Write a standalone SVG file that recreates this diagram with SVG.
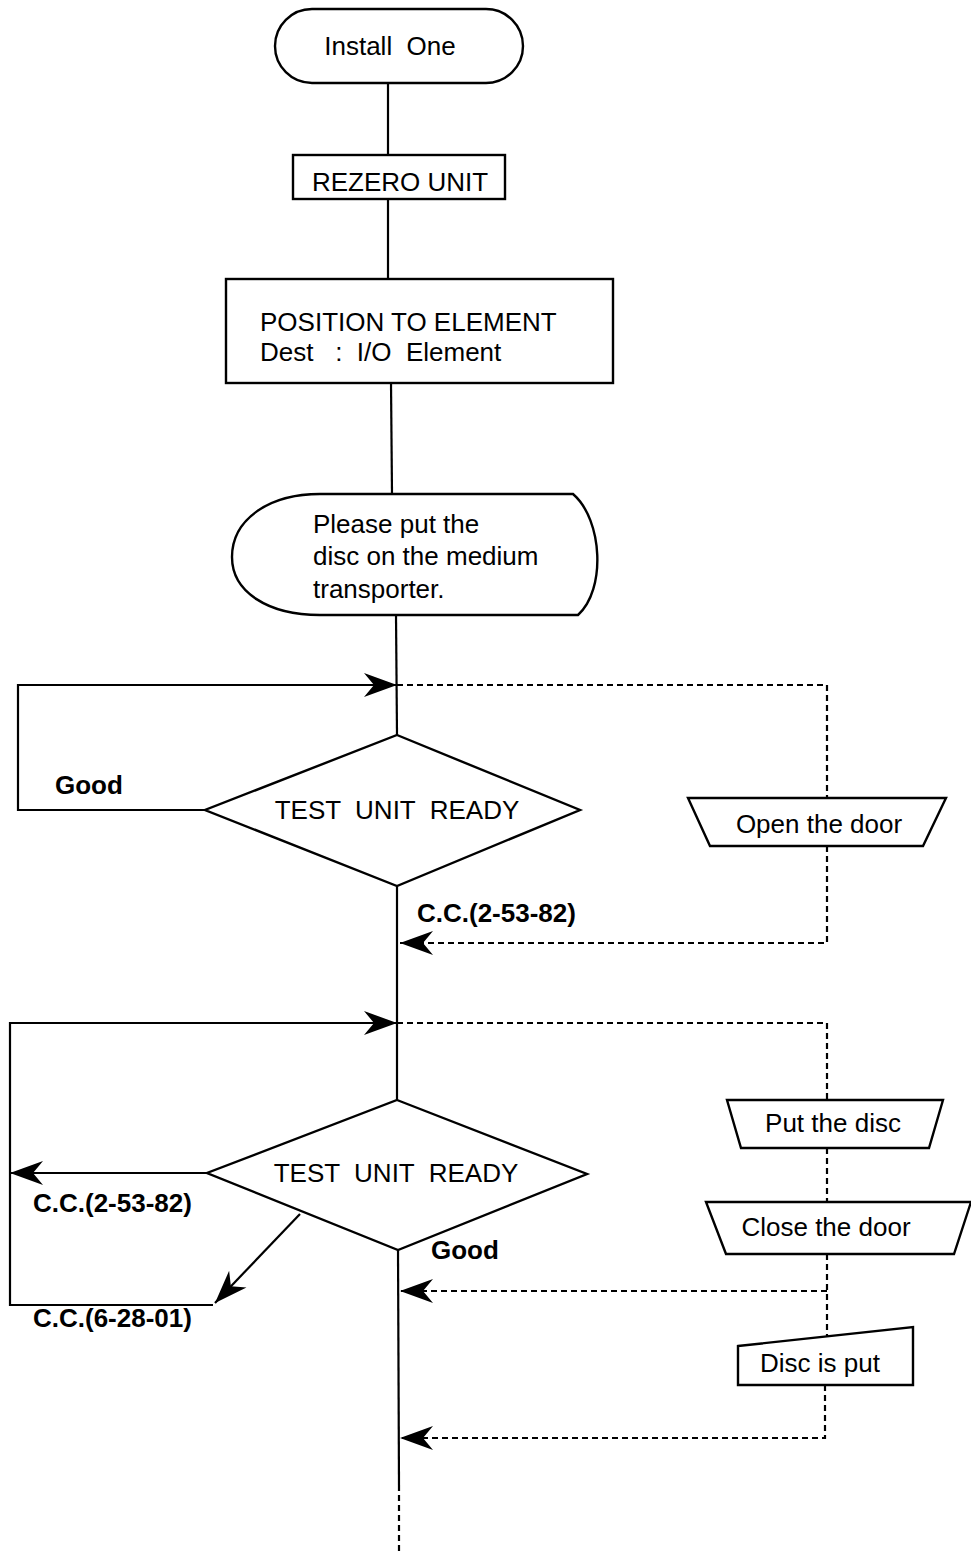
<svg xmlns="http://www.w3.org/2000/svg" width="971" height="1551" viewBox="0 0 971 1551">
  <style>
    .box { fill: #fff; stroke: #000; stroke-width: 2.4; }
    .ln { fill: none; stroke: #000; stroke-width: 2.2; }
    .dash { fill: none; stroke: #000; stroke-width: 2.2; stroke-dasharray: 6 4; }
    .t { font-family: "Liberation Sans", Arial, sans-serif; font-size: 26px; fill: #000; white-space: pre; }
    .b { font-family: "Liberation Sans", Arial, sans-serif; font-size: 26px; font-weight: bold; fill: #000; white-space: pre; }
    .c { text-anchor: middle; }
  </style>
  <defs>
    <marker id="arrow" viewBox="0 0 34 26" refX="33" refY="13" markerWidth="34" markerHeight="26" markerUnits="userSpaceOnUse" orient="auto">
      <path d="M33,13 L0,1 L10,13 L0,25 Z" fill="#000"/>
    </marker>
  </defs>
  <rect width="971" height="1551" fill="#fff"/>

  <!-- connectors -->
  <g id="connectors">
    <!-- main flow -->
    <line class="ln" x1="388" y1="83" x2="388" y2="155"/>
    <line class="ln" x1="388" y1="199" x2="388" y2="279"/>
    <line class="ln" x1="391" y1="383" x2="392" y2="494"/>
    <line class="ln" x1="396" y1="615" x2="397" y2="735"/>
    <line class="ln" x1="397" y1="886" x2="397" y2="1100"/>
    <line class="ln" x1="398" y1="1250" x2="399" y2="1485"/>
    <line class="dash" x1="399" y1="1485" x2="399" y2="1551"/>

    <!-- first retry loop -->
    <polyline class="ln" points="205,810 18,810 18,685 397,685" marker-end="url(#arrow)"/>
    <polyline class="dash" points="397,685 827,685 827,798"/>
    <polyline class="dash" points="827,846 827,943 400,943" marker-end="url(#arrow)"/>

    <!-- second retry loop -->
    <polyline class="ln" points="213,1305 10,1305 10,1023 397,1023" marker-end="url(#arrow)"/>
    <line class="ln" x1="207" y1="1173" x2="10" y2="1173" marker-end="url(#arrow)"/>
    <line class="ln" x1="300" y1="1214" x2="215" y2="1303" marker-end="url(#arrow)"/>
    <polyline class="dash" points="397,1023 827,1023 827,1100"/>
    <line class="dash" x1="827" y1="1148" x2="827" y2="1202"/>
    <line class="dash" x1="827" y1="1254" x2="827" y2="1336"/>
    <polyline class="dash" points="827,1291 400,1291" marker-end="url(#arrow)"/>
    <polyline class="dash" points="825,1385 825,1438 400,1438" marker-end="url(#arrow)"/>
  </g>

  <!-- start terminator -->
  <g id="install-one">
    <rect class="box" x="275" y="9" width="248" height="74" rx="37" ry="37"/>
    <text class="t c" x="390" y="55">Install  One</text>
  </g>

  <g id="rezero-unit">
    <rect class="box" x="293" y="155" width="212" height="44"/>
    <text class="t c" x="400" y="191">REZERO UNIT</text>
  </g>

  <g id="position-to-element">
    <rect class="box" x="226" y="279" width="387" height="104"/>
    <text class="t" x="260" y="331">POSITION TO ELEMENT</text>
    <text class="t" x="260" y="361">Dest   :  I/O  Element</text>
  </g>

  <!-- operator display message -->
  <g id="put-disc-message">
    <path class="box" d="M320,494 L573,494 C603,520 606,590 578,615 L320,615 C268,615 232,592 232,557 C232,520 268,494 320,494 Z"/>
    <text class="t" x="313" y="533">Please put the</text>
    <text class="t" x="313" y="565">disc on the medium</text>
    <text class="t" x="313" y="598">transporter.</text>
  </g>

  <g id="test-unit-ready-1">
    <polygon class="box" points="397,735 580,810 397,886 205,810"/>
    <text class="t c" x="397" y="819">TEST  UNIT  READY</text>
  </g>
  <text class="b" x="55" y="794">Good</text>
  <text class="b" x="417" y="922">C.C.(2-53-82)</text>

  <g id="open-the-door">
    <polygon class="box" points="688,798 946,798 923,846 710,846"/>
    <text class="t c" x="819" y="833">Open the door</text>
  </g>

  <g id="test-unit-ready-2">
    <polygon class="box" points="397,1100 587,1174 398,1250 207,1173"/>
    <text class="t c" x="396" y="1182">TEST  UNIT  READY</text>
  </g>
  <text class="b" x="33" y="1212">C.C.(2-53-82)</text>
  <text class="b" x="431" y="1259">Good</text>
  <text class="b" x="33" y="1327">C.C.(6-28-01)</text>

  <g id="put-the-disc">
    <polygon class="box" points="727,1100 943,1100 929,1148 741,1148"/>
    <text class="t c" x="833" y="1132">Put the disc</text>
  </g>

  <g id="close-the-door">
    <polygon class="box" points="706,1202 971,1202 954,1254 726,1254"/>
    <text class="t c" x="826" y="1236">Close the door</text>
  </g>

  <g id="disc-is-put">
    <polygon class="box" points="738,1346 913,1327 913,1385 738,1385"/>
    <text class="t c" x="820" y="1372">Disc is put</text>
  </g>
</svg>
